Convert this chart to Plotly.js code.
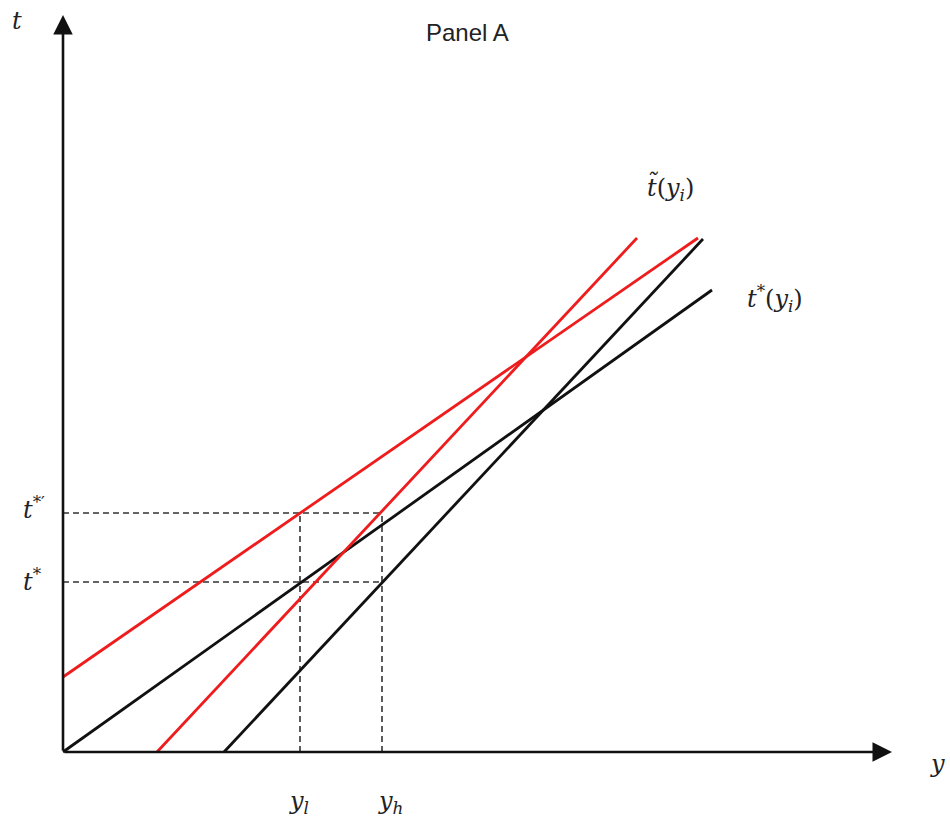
<!DOCTYPE html>
<html>
<head>
<meta charset="utf-8">
<script src="https://cdn.plot.ly/plotly-3.0.1.min.js"></script>
<style>
  html, body { margin: 0; padding: 0; background: #fff; }
  #chart { width: 950px; height: 821px; }
</style>
</head>
<body>
<div id="chart"></div>
<script>
// Schedule lines (income y on the horizontal axis, threshold t on the vertical)
const tStarX = [0, 649];
const tStarY = [0, 462];
const blackSteepX = [161, 640];
const blackSteepY = [0, 513];
const tTildeX = [0, 635];
const tTildeY = [75, 514];
const redSteepX = [94, 574];
const redSteepY = [0, 514];

// Reference levels marked by the dashed guides
const tLevels = [170, 239];
const tLabels = ['<i>t</i><sup>*</sup>', '<i>t</i><sup>*′</sup>'];
const yLevels = [237, 319];
const yLabels = ['<i>y<sub>l</sub></i>', '<i>y<sub>h</sub></i>'];

// Axis extents (arrow tips)
const xAxisEnd = 829;
const yAxisEnd = 737;

const RED = '#ee1c1c';
const BLACK = '#111111';
const mathFont = { family: 'DejaVu Serif, Liberation Serif, serif', size: 24, color: '#222' };

const traces = [];

function seg(x, y, color, width, dash) {
  traces.push({
    x: x, y: y, type: 'scatter', mode: 'lines',
    line: { color: color, width: width, dash: dash || 'solid' },
    hoverinfo: 'skip', showlegend: false
  });
}

// dashed guides: horizontals to y_h, verticals up to t*'
const yMax = Math.max(...yLevels);
const tMax = Math.max(...tLevels);
tLevels.forEach(t => seg([0, yMax], [t, t], '#333', 1.6, '6px,4px'));
yLevels.forEach(y => seg([y, y], [0, tMax], '#333', 1.6, '6px,4px'));

// schedules
seg(tStarX, tStarY, BLACK, 2.8);
seg(blackSteepX, blackSteepY, BLACK, 2.8);
seg(tTildeX, tTildeY, RED, 2.8);
seg(redSteepX, redSteepY, RED, 2.8);

const annotations = [];

// axes as arrows
annotations.push({
  x: xAxisEnd, y: 0, ax: 0, ay: 0, xref: 'x', yref: 'y', axref: 'x', ayref: 'y',
  showarrow: true, arrowhead: 2, arrowsize: 1.5, arrowwidth: 2.6, arrowcolor: '#111', text: ''
});
annotations.push({
  x: 0, y: yAxisEnd, ax: 0, ay: 0, xref: 'x', yref: 'y', axref: 'x', ayref: 'y',
  showarrow: true, arrowhead: 2, arrowsize: 1.5, arrowwidth: 2.6, arrowcolor: '#111', text: ''
});

function label(text, x, y, font) {
  annotations.push({ text: text, x: x, y: y, xref: 'x', yref: 'y', showarrow: false,
    xanchor: 'center', yanchor: 'middle', font: font || mathFont });
}

label('<i>t</i>', -46, 731);
label('<i>y</i>', 874, -12);
label('Panel A', 404, 720, { family: 'Liberation Sans, Arial, sans-serif', size: 24, color: '#222' });
label('<i>t\u0303</i>(<i>y<sub>i</sub></i>)', 607, 564);
label('<i>t</i><sup>*</sup>(<i>y<sub>i</sub></i>)', 712, 454);
label(tLabels[0], -31, 172);
label(tLabels[1], -29, 244);
label(yLabels[0], 236, -50);
label(yLabels[1], 327, -50);

const layout = {
  width: 950, height: 821,
  margin: { l: 0, r: 0, t: 0, b: 0 },
  paper_bgcolor: '#fff', plot_bgcolor: '#fff',
  xaxis: { range: [-63, 887], visible: false, fixedrange: true },
  yaxis: { range: [-69, 752], visible: false, fixedrange: true },
  showlegend: false,
  annotations: annotations
};

Plotly.newPlot('chart', traces, layout, { displayModeBar: false, staticPlot: true });
</script>
</body>
</html>
